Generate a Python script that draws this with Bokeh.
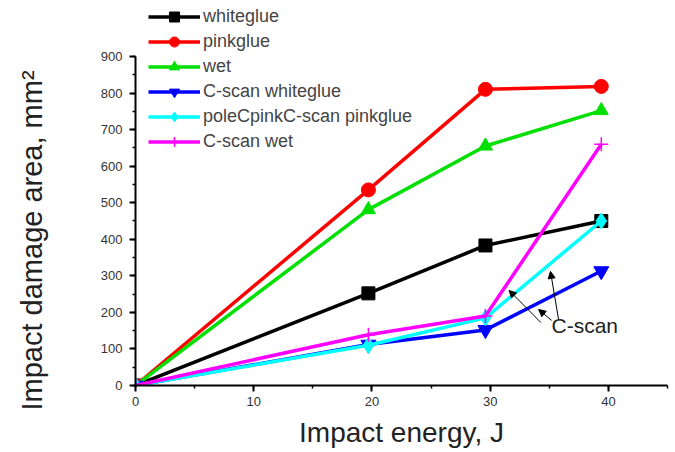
from bokeh.plotting import figure
from bokeh.models import (Range1d, SingleIntervalTicker, Legend, LegendItem,
                          Label, Arrow, NormalHead, Title)
from bokeh.embed import file_html
from bokeh.resources import INLINE

# ---- data ----
energy = [0, 19.7, 29.6, 39.4]
whiteglue = [0, 252, 383, 450]
pinkglue = [0, 535, 810, 818]
wet = [0, 481, 655, 752]
cscan_whiteglue = [0, 112, 152, 313]
cscan_pinkglue = [0, 110, 185, 450]
cscan_wet = [0, 139, 190, 660]

series_names = ["whiteglue", "pinkglue", "wet", "C-scan whiteglue",
                "poleCpinkC-scan pinkglue", "C-scan wet"]
series_values = [whiteglue, pinkglue, wet, cscan_whiteglue, cscan_pinkglue, cscan_wet]
colors = ["#000000", "#ff0000", "#00e000", "#0000ff", "#00ffff", "#ff00ff"]
markers = ["square", "circle", "triangle", "inverted_triangle", "diamond", "cross"]
sizes = [13, 14, 14, 15, 16, 14]

x_ticks_interval = 10
y_ticks_interval = 100

FONT = "Liberation Sans"

p = figure(width=675, height=452, output_backend="svg", toolbar_location=None,
           x_range=Range1d(0, 45), y_range=Range1d(0, 1053),
           min_border_left=135, min_border_right=8, min_border_top=0,
           min_border_bottom=67)
p.outline_line_color = None
p.xgrid.visible = False
p.ygrid.visible = False

items = []
for name, vals, c, m, s in zip(series_names, series_values, colors, markers, sizes):
    r1 = p.line(energy, vals, line_color=c, line_width=3.5)
    if m == "cross":
        r2 = p.scatter(energy, vals, marker=m, size=s, line_color=c, line_width=1.5)
    else:
        r2 = p.scatter(energy, vals, marker=m, size=s, fill_color=c, line_color=c)
    items.append(LegendItem(label=name, renderers=[r1, r2]))

legend = Legend(items=items, location=(13, 231), glyph_width=52, glyph_height=25,
                label_height=25, spacing=0, padding=0, margin=0, label_standoff=3,
                label_text_font_size="18px", label_text_font=FONT,
                background_fill_alpha=0, border_line_color=None)
p.add_layout(legend)

# axes
p.xaxis.ticker = SingleIntervalTicker(interval=x_ticks_interval, num_minor_ticks=2)
p.yaxis.ticker = SingleIntervalTicker(interval=y_ticks_interval, num_minor_ticks=2)
p.yaxis.bounds = (0, 900)
for ax in (p.xaxis[0], p.yaxis[0]):
    ax.axis_line_width = 2
    ax.major_tick_line_width = 2
    ax.minor_tick_line_width = 1.5
    ax.major_tick_out = 6
    ax.major_tick_in = 0
    ax.minor_tick_out = 3
    ax.minor_tick_in = 0
    ax.major_label_text_font = FONT
    ax.major_label_text_font_size = "13px"
    ax.major_label_text_color = "#333333"
p.xaxis.major_label_standoff = 5
p.yaxis.major_label_standoff = 7

p.xaxis.axis_label = "Impact energy, J"
p.xaxis.axis_label_text_font = FONT
p.xaxis.axis_label_text_font_size = "28px"
p.xaxis.axis_label_text_font_style = "normal"
p.xaxis.axis_label_text_color = "#222222"
p.xaxis.axis_label_standoff = 8

# blank spacer label on the y axis widens its panel, pushing the title outward
p.yaxis.axis_label = "\u00a0"
p.yaxis.axis_label_text_font_size = "10px"
p.yaxis.axis_label_standoff = 35

# y-axis title as a side-panel title, anchored below the frame bottom
ytitle = Title(text="Impact damage area, mm²", align="left", offset=-25,
               vertical_align="middle", text_font=FONT, text_font_size="29px",
               text_font_style="normal", text_color="#222222", standoff=0)
p.add_layout(ytitle, "left")

# C-scan annotation
p.add_layout(Label(x=38.0, y=164, text="C-scan", text_align="center",
                   text_baseline="middle", text_font=FONT, text_font_size="21px",
                   text_color="#222222"))
arrows = [((34.3, 172), (31.6, 260)), ((35.2, 178), (34.1, 208)),
          ((35.8, 178), (35.1, 312))]
for (xs, ys), (xe, ye) in arrows:
    p.add_layout(Arrow(end=NormalHead(size=7, fill_color="black", line_color="black"),
                       x_start=xs, y_start=ys, x_end=xe, y_end=ye,
                       line_color="black", line_width=1))

open("out.html", "w").write(file_html(p, INLINE))
